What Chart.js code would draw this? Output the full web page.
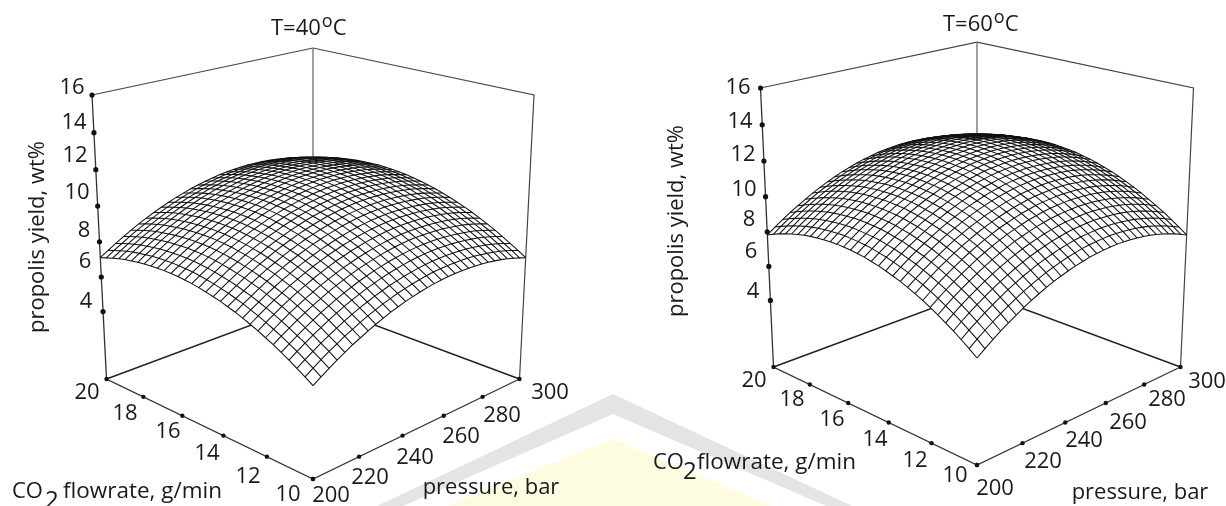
<!DOCTYPE html>
<html>
<head>
<meta charset="utf-8">
<style>
html,body{margin:0;padding:0;background:#fff;overflow:hidden}
#wrap{position:relative;width:1226px;height:506px}
#wrap canvas{position:absolute;left:0;top:0}
.mark{position:absolute;left:0;top:0;width:1226px;height:506px}
#mark1{background:#e4e4e4;clip-path:polygon(613px 394px,852px 506px,826px 506px,613px 414px,403px 506px,377px 506px)}
#mark2{background:#fdfbe0;clip-path:polygon(613px 439px,773px 506px,447px 506px)}
</style>
</head>
<body>
<div id="wrap">
<div class="mark" id="mark1"></div>
<div class="mark" id="mark2"></div>
<canvas id="chart" width="1226" height="506"></canvas>
</div>
<script src="https://cdn.jsdelivr.net/npm/chart.js@4"></script>
<script>
var yieldTicks = [4, 6, 8, 10, 12, 14, 16];
var flowTicks = [20, 18, 16, 14, 12, 10];
var pressureTicks = [200, 220, 240, 260, 280, 300];

// mesh nodes of the surface
var pressureNodes = [200, 203.33, 206.67, 210, 213.33, 216.67, 220, 223.33, 226.67, 230, 233.33, 236.67, 240, 243.33, 246.67, 250, 253.33, 256.67, 260, 263.33, 266.67, 270, 273.33, 276.67, 280, 283.33, 286.67, 290, 293.33, 296.67, 300];
var flowNodes = [10, 10.33, 10.67, 11, 11.33, 11.67, 12, 12.33, 12.67, 13, 13.33, 13.67, 14, 14.33, 14.67, 15, 15.33, 15.67, 16, 16.33, 16.67, 17, 17.33, 17.67, 18, 18.33, 18.67, 19, 19.33, 19.67, 20];

var yield40 = [
[4.90,5.18,5.44,5.70,5.93,6.16,6.36,6.56,6.74,6.90,7.06,7.19,7.32,7.42,7.52,7.60,7.67,7.72,7.76,7.78,7.79,7.78,7.76,7.73,7.68,7.62,7.55,7.46,7.35,7.23,7.10],
[5.18,5.46,5.72,5.98,6.21,6.44,6.64,6.84,7.02,7.18,7.34,7.47,7.60,7.70,7.80,7.88,7.95,8.00,8.04,8.06,8.07,8.06,8.04,8.01,7.96,7.90,7.83,7.74,7.63,7.51,7.38],
[5.44,5.72,5.98,6.24,6.47,6.70,6.90,7.10,7.28,7.44,7.60,7.73,7.86,7.96,8.06,8.14,8.21,8.26,8.30,8.32,8.33,8.32,8.30,8.27,8.22,8.16,8.09,8.00,7.89,7.77,7.64],
[5.70,5.98,6.24,6.50,6.73,6.96,7.16,7.36,7.54,7.70,7.86,7.99,8.12,8.22,8.32,8.40,8.47,8.52,8.56,8.58,8.59,8.58,8.56,8.53,8.48,8.42,8.35,8.26,8.15,8.03,7.90],
[5.93,6.21,6.47,6.73,6.96,7.19,7.39,7.59,7.77,7.93,8.09,8.22,8.35,8.45,8.55,8.63,8.70,8.75,8.79,8.81,8.82,8.81,8.79,8.76,8.71,8.65,8.58,8.49,8.38,8.26,8.13],
[6.16,6.44,6.70,6.96,7.19,7.42,7.62,7.82,8.00,8.16,8.32,8.45,8.58,8.68,8.78,8.86,8.93,8.98,9.02,9.04,9.05,9.04,9.02,8.99,8.94,8.88,8.81,8.72,8.61,8.49,8.36],
[6.36,6.64,6.90,7.16,7.39,7.62,7.82,8.02,8.20,8.36,8.52,8.65,8.78,8.88,8.98,9.06,9.13,9.18,9.22,9.24,9.25,9.24,9.22,9.19,9.14,9.08,9.01,8.92,8.81,8.69,8.56],
[6.56,6.84,7.10,7.36,7.59,7.82,8.02,8.22,8.40,8.56,8.72,8.85,8.98,9.08,9.18,9.26,9.33,9.38,9.42,9.44,9.45,9.44,9.42,9.39,9.34,9.28,9.21,9.12,9.01,8.89,8.76],
[6.74,7.02,7.28,7.54,7.77,8.00,8.20,8.40,8.58,8.74,8.90,9.03,9.16,9.26,9.36,9.44,9.51,9.56,9.60,9.62,9.63,9.62,9.60,9.57,9.52,9.46,9.39,9.30,9.19,9.07,8.94],
[6.90,7.18,7.44,7.70,7.93,8.16,8.36,8.56,8.74,8.90,9.06,9.19,9.32,9.42,9.52,9.60,9.67,9.72,9.76,9.78,9.79,9.78,9.76,9.73,9.68,9.62,9.55,9.46,9.35,9.23,9.10],
[7.06,7.34,7.60,7.86,8.09,8.32,8.52,8.72,8.90,9.06,9.22,9.35,9.48,9.58,9.68,9.76,9.83,9.88,9.92,9.94,9.95,9.94,9.92,9.89,9.84,9.78,9.71,9.62,9.51,9.39,9.26],
[7.19,7.47,7.73,7.99,8.22,8.45,8.65,8.85,9.03,9.19,9.35,9.48,9.61,9.71,9.81,9.89,9.96,10.01,10.05,10.07,10.08,10.07,10.05,10.02,9.97,9.91,9.84,9.75,9.64,9.52,9.39],
[7.32,7.60,7.86,8.12,8.35,8.58,8.78,8.98,9.16,9.32,9.48,9.61,9.74,9.84,9.94,10.02,10.09,10.14,10.18,10.20,10.21,10.20,10.18,10.15,10.10,10.04,9.97,9.88,9.77,9.65,9.52],
[7.42,7.70,7.96,8.22,8.45,8.68,8.88,9.08,9.26,9.42,9.58,9.71,9.84,9.94,10.04,10.12,10.19,10.24,10.28,10.30,10.31,10.30,10.28,10.25,10.20,10.14,10.07,9.98,9.87,9.75,9.62],
[7.52,7.80,8.06,8.32,8.55,8.78,8.98,9.18,9.36,9.52,9.68,9.81,9.94,10.04,10.14,10.22,10.29,10.34,10.38,10.40,10.41,10.40,10.38,10.35,10.30,10.24,10.17,10.08,9.97,9.85,9.72],
[7.60,7.88,8.14,8.40,8.63,8.86,9.06,9.26,9.44,9.60,9.76,9.89,10.02,10.12,10.22,10.30,10.37,10.42,10.46,10.48,10.49,10.48,10.46,10.43,10.38,10.32,10.25,10.16,10.05,9.93,9.80],
[7.67,7.95,8.21,8.47,8.70,8.93,9.13,9.33,9.51,9.67,9.83,9.96,10.09,10.19,10.29,10.37,10.44,10.49,10.53,10.55,10.56,10.55,10.53,10.50,10.45,10.39,10.32,10.23,10.12,10.00,9.87],
[7.72,8.00,8.26,8.52,8.75,8.98,9.18,9.38,9.56,9.72,9.88,10.01,10.14,10.24,10.34,10.42,10.49,10.54,10.58,10.60,10.61,10.60,10.58,10.55,10.50,10.44,10.37,10.28,10.17,10.05,9.92],
[7.76,8.04,8.30,8.56,8.79,9.02,9.22,9.42,9.60,9.76,9.92,10.05,10.18,10.28,10.38,10.46,10.53,10.58,10.62,10.64,10.65,10.64,10.62,10.59,10.54,10.48,10.41,10.32,10.21,10.09,9.96],
[7.78,8.06,8.32,8.58,8.81,9.04,9.24,9.44,9.62,9.78,9.94,10.07,10.20,10.30,10.40,10.48,10.55,10.60,10.64,10.66,10.67,10.66,10.64,10.61,10.56,10.50,10.43,10.34,10.23,10.11,9.98],
[7.79,8.07,8.33,8.59,8.82,9.05,9.25,9.45,9.63,9.79,9.95,10.08,10.21,10.31,10.41,10.49,10.56,10.61,10.65,10.67,10.68,10.67,10.65,10.62,10.57,10.51,10.44,10.35,10.24,10.12,9.99],
[7.78,8.06,8.32,8.58,8.81,9.04,9.24,9.44,9.62,9.78,9.94,10.07,10.20,10.30,10.40,10.48,10.55,10.60,10.64,10.66,10.67,10.66,10.64,10.61,10.56,10.50,10.43,10.34,10.23,10.11,9.98],
[7.76,8.04,8.30,8.56,8.79,9.02,9.22,9.42,9.60,9.76,9.92,10.05,10.18,10.28,10.38,10.46,10.53,10.58,10.62,10.64,10.65,10.64,10.62,10.59,10.54,10.48,10.41,10.32,10.21,10.09,9.96],
[7.73,8.01,8.27,8.53,8.76,8.99,9.19,9.39,9.57,9.73,9.89,10.02,10.15,10.25,10.35,10.43,10.50,10.55,10.59,10.61,10.62,10.61,10.59,10.56,10.51,10.45,10.38,10.29,10.18,10.06,9.93],
[7.68,7.96,8.22,8.48,8.71,8.94,9.14,9.34,9.52,9.68,9.84,9.97,10.10,10.20,10.30,10.38,10.45,10.50,10.54,10.56,10.57,10.56,10.54,10.51,10.46,10.40,10.33,10.24,10.13,10.01,9.88],
[7.62,7.90,8.16,8.42,8.65,8.88,9.08,9.28,9.46,9.62,9.78,9.91,10.04,10.14,10.24,10.32,10.39,10.44,10.48,10.50,10.51,10.50,10.48,10.45,10.40,10.34,10.27,10.18,10.07,9.95,9.82],
[7.55,7.83,8.09,8.35,8.58,8.81,9.01,9.21,9.39,9.55,9.71,9.84,9.97,10.07,10.17,10.25,10.32,10.37,10.41,10.43,10.44,10.43,10.41,10.38,10.33,10.27,10.20,10.11,10.00,9.88,9.75],
[7.46,7.74,8.00,8.26,8.49,8.72,8.92,9.12,9.30,9.46,9.62,9.75,9.88,9.98,10.08,10.16,10.23,10.28,10.32,10.34,10.35,10.34,10.32,10.29,10.24,10.18,10.11,10.02,9.91,9.79,9.66],
[7.35,7.63,7.89,8.15,8.38,8.61,8.81,9.01,9.19,9.35,9.51,9.64,9.77,9.87,9.97,10.05,10.12,10.17,10.21,10.23,10.24,10.23,10.21,10.18,10.13,10.07,10.00,9.91,9.80,9.68,9.55],
[7.23,7.51,7.77,8.03,8.26,8.49,8.69,8.89,9.07,9.23,9.39,9.52,9.65,9.75,9.85,9.93,10.00,10.05,10.09,10.11,10.12,10.11,10.09,10.06,10.01,9.95,9.88,9.79,9.68,9.56,9.43],
[7.10,7.38,7.64,7.90,8.13,8.36,8.56,8.76,8.94,9.10,9.26,9.39,9.52,9.62,9.72,9.80,9.87,9.92,9.96,9.98,9.99,9.98,9.96,9.93,9.88,9.82,9.75,9.66,9.55,9.43,9.30]
];

// same layout, T=60 surface
var yield60 = [
[5.67,5.99,6.29,6.57,6.83,7.08,7.32,7.53,7.73,7.91,8.08,8.22,8.35,8.47,8.56,8.65,8.71,8.75,8.78,8.80,8.79,8.77,8.73,8.68,8.61,8.52,8.41,8.29,8.15,7.99,7.82],
[5.99,6.31,6.61,6.89,7.15,7.40,7.64,7.85,8.05,8.23,8.40,8.54,8.67,8.79,8.88,8.97,9.03,9.07,9.10,9.12,9.11,9.09,9.05,9.00,8.93,8.84,8.73,8.61,8.47,8.31,8.14],
[6.29,6.61,6.91,7.19,7.45,7.70,7.94,8.15,8.35,8.53,8.70,8.84,8.97,9.09,9.18,9.27,9.33,9.37,9.40,9.42,9.41,9.39,9.35,9.30,9.23,9.14,9.03,8.91,8.77,8.61,8.44],
[6.57,6.89,7.19,7.47,7.73,7.98,8.22,8.43,8.63,8.81,8.98,9.12,9.25,9.37,9.46,9.55,9.61,9.65,9.68,9.70,9.69,9.67,9.63,9.58,9.51,9.42,9.31,9.19,9.05,8.89,8.72],
[6.83,7.15,7.45,7.73,7.99,8.24,8.48,8.69,8.89,9.07,9.24,9.38,9.51,9.63,9.72,9.81,9.87,9.91,9.94,9.96,9.95,9.93,9.89,9.84,9.77,9.68,9.57,9.45,9.31,9.15,8.98],
[7.08,7.40,7.70,7.98,8.24,8.49,8.73,8.94,9.14,9.32,9.49,9.63,9.76,9.88,9.97,10.06,10.12,10.16,10.19,10.21,10.20,10.18,10.14,10.09,10.02,9.93,9.82,9.70,9.56,9.40,9.23],
[7.32,7.64,7.94,8.22,8.48,8.73,8.97,9.18,9.38,9.56,9.73,9.87,10.00,10.12,10.21,10.30,10.36,10.40,10.43,10.45,10.44,10.42,10.38,10.33,10.26,10.17,10.06,9.94,9.80,9.64,9.47],
[7.53,7.85,8.15,8.43,8.69,8.94,9.18,9.39,9.59,9.77,9.94,10.08,10.21,10.33,10.42,10.51,10.57,10.61,10.64,10.66,10.65,10.63,10.59,10.54,10.47,10.38,10.27,10.15,10.01,9.85,9.68],
[7.73,8.05,8.35,8.63,8.89,9.14,9.38,9.59,9.79,9.97,10.14,10.28,10.41,10.53,10.62,10.71,10.77,10.81,10.84,10.86,10.85,10.83,10.79,10.74,10.67,10.58,10.47,10.35,10.21,10.05,9.88],
[7.91,8.23,8.53,8.81,9.07,9.32,9.56,9.77,9.97,10.15,10.32,10.46,10.59,10.71,10.80,10.89,10.95,10.99,11.02,11.04,11.03,11.01,10.97,10.92,10.85,10.76,10.65,10.53,10.39,10.23,10.06],
[8.08,8.40,8.70,8.98,9.24,9.49,9.73,9.94,10.14,10.32,10.49,10.63,10.76,10.88,10.97,11.06,11.12,11.16,11.19,11.21,11.20,11.18,11.14,11.09,11.02,10.93,10.82,10.70,10.56,10.40,10.23],
[8.22,8.54,8.84,9.12,9.38,9.63,9.87,10.08,10.28,10.46,10.63,10.77,10.90,11.02,11.11,11.20,11.26,11.30,11.33,11.35,11.34,11.32,11.28,11.23,11.16,11.07,10.96,10.84,10.70,10.54,10.37],
[8.35,8.67,8.97,9.25,9.51,9.76,10.00,10.21,10.41,10.59,10.76,10.90,11.03,11.15,11.24,11.33,11.39,11.43,11.46,11.48,11.47,11.45,11.41,11.36,11.29,11.20,11.09,10.97,10.83,10.67,10.50],
[8.47,8.79,9.09,9.37,9.63,9.88,10.12,10.33,10.53,10.71,10.88,11.02,11.15,11.27,11.36,11.45,11.51,11.55,11.58,11.60,11.59,11.57,11.53,11.48,11.41,11.32,11.21,11.09,10.95,10.79,10.62],
[8.56,8.88,9.18,9.46,9.72,9.97,10.21,10.42,10.62,10.80,10.97,11.11,11.24,11.36,11.45,11.54,11.60,11.64,11.67,11.69,11.68,11.66,11.62,11.57,11.50,11.41,11.30,11.18,11.04,10.88,10.71],
[8.65,8.97,9.27,9.55,9.81,10.06,10.30,10.51,10.71,10.89,11.06,11.20,11.33,11.45,11.54,11.63,11.69,11.73,11.76,11.78,11.77,11.75,11.71,11.66,11.59,11.50,11.39,11.27,11.13,10.97,10.80],
[8.71,9.03,9.33,9.61,9.87,10.12,10.36,10.57,10.77,10.95,11.12,11.26,11.39,11.51,11.60,11.69,11.75,11.79,11.82,11.84,11.83,11.81,11.77,11.72,11.65,11.56,11.45,11.33,11.19,11.03,10.86],
[8.75,9.07,9.37,9.65,9.91,10.16,10.40,10.61,10.81,10.99,11.16,11.30,11.43,11.55,11.64,11.73,11.79,11.83,11.86,11.88,11.87,11.85,11.81,11.76,11.69,11.60,11.49,11.37,11.23,11.07,10.90],
[8.78,9.10,9.40,9.68,9.94,10.19,10.43,10.64,10.84,11.02,11.19,11.33,11.46,11.58,11.67,11.76,11.82,11.86,11.89,11.91,11.90,11.88,11.84,11.79,11.72,11.63,11.52,11.40,11.26,11.10,10.93],
[8.80,9.12,9.42,9.70,9.96,10.21,10.45,10.66,10.86,11.04,11.21,11.35,11.48,11.60,11.69,11.78,11.84,11.88,11.91,11.93,11.92,11.90,11.86,11.81,11.74,11.65,11.54,11.42,11.28,11.12,10.95],
[8.79,9.11,9.41,9.69,9.95,10.20,10.44,10.65,10.85,11.03,11.20,11.34,11.47,11.59,11.68,11.77,11.83,11.87,11.90,11.92,11.91,11.89,11.85,11.80,11.73,11.64,11.53,11.41,11.27,11.11,10.94],
[8.77,9.09,9.39,9.67,9.93,10.18,10.42,10.63,10.83,11.01,11.18,11.32,11.45,11.57,11.66,11.75,11.81,11.85,11.88,11.90,11.89,11.87,11.83,11.78,11.71,11.62,11.51,11.39,11.25,11.09,10.92],
[8.73,9.05,9.35,9.63,9.89,10.14,10.38,10.59,10.79,10.97,11.14,11.28,11.41,11.53,11.62,11.71,11.77,11.81,11.84,11.86,11.85,11.83,11.79,11.74,11.67,11.58,11.47,11.35,11.21,11.05,10.88],
[8.68,9.00,9.30,9.58,9.84,10.09,10.33,10.54,10.74,10.92,11.09,11.23,11.36,11.48,11.57,11.66,11.72,11.76,11.79,11.81,11.80,11.78,11.74,11.69,11.62,11.53,11.42,11.30,11.16,11.00,10.83],
[8.61,8.93,9.23,9.51,9.77,10.02,10.26,10.47,10.67,10.85,11.02,11.16,11.29,11.41,11.50,11.59,11.65,11.69,11.72,11.74,11.73,11.71,11.67,11.62,11.55,11.46,11.35,11.23,11.09,10.93,10.76],
[8.52,8.84,9.14,9.42,9.68,9.93,10.17,10.38,10.58,10.76,10.93,11.07,11.20,11.32,11.41,11.50,11.56,11.60,11.63,11.65,11.64,11.62,11.58,11.53,11.46,11.37,11.26,11.14,11.00,10.84,10.67],
[8.41,8.73,9.03,9.31,9.57,9.82,10.06,10.27,10.47,10.65,10.82,10.96,11.09,11.21,11.30,11.39,11.45,11.49,11.52,11.54,11.53,11.51,11.47,11.42,11.35,11.26,11.15,11.03,10.89,10.73,10.56],
[8.29,8.61,8.91,9.19,9.45,9.70,9.94,10.15,10.35,10.53,10.70,10.84,10.97,11.09,11.18,11.27,11.33,11.37,11.40,11.42,11.41,11.39,11.35,11.30,11.23,11.14,11.03,10.91,10.77,10.61,10.44],
[8.15,8.47,8.77,9.05,9.31,9.56,9.80,10.01,10.21,10.39,10.56,10.70,10.83,10.95,11.04,11.13,11.19,11.23,11.26,11.28,11.27,11.25,11.21,11.16,11.09,11.00,10.89,10.77,10.63,10.47,10.30],
[7.99,8.31,8.61,8.89,9.15,9.40,9.64,9.85,10.05,10.23,10.40,10.54,10.67,10.79,10.88,10.97,11.03,11.07,11.10,11.12,11.11,11.09,11.05,11.00,10.93,10.84,10.73,10.61,10.47,10.31,10.14],
[7.82,8.14,8.44,8.72,8.98,9.23,9.47,9.68,9.88,10.06,10.23,10.37,10.50,10.62,10.71,10.80,10.86,10.90,10.93,10.95,10.94,10.92,10.88,10.83,10.76,10.67,10.56,10.44,10.30,10.14,9.97]
];

// perspective of each box, in page pixels
var view40 = {cx: 313, cy: 379, half: 206.5, c: 0.13, e: -0.0656, d: -37.7, g: -290.2};
var view60 = {cx: 977, cy: 367, half: 203.5, c: 0.13, e: -0.06, d: -37.6, g: -284.3};

// pressure 200..300, flow 10..20, yield 0..16 -> page pixels
function project(view, pressure, flow, y) {
    var a = (pressure - 200) / 100, b = (flow - 10) / 10, z = y / 16;
    var t = a + b - 1;
    var w = 1 + view.c * t + view.e * z;
    return {x: view.cx + view.half * (a - b) / w, y: (view.cy + view.d * t + view.g * z) / w};
}

function line(points, color, width, order) {
    return {data: points, showLine: true, borderColor: color, borderWidth: width, pointRadius: 0, order: order};
}

function dots(points, radius) {
    return {data: points, showLine: false, pointRadius: radius, backgroundColor: "#111", borderWidth: 0, order: 0};
}

function panelDatasets(view, grid) {
    var sets = [];
    function p(pr, fl, y) { return project(view, pr, fl, y); }
    // box frame
    sets.push(line([p(200, 20, 0), p(300, 20, 0), p(300, 10, 0)], "#222", 1.5, 5));
    sets.push(line([p(300, 20, 0), p(300, 20, 16)], "#888", 1.6, 5));
    sets.push(line([p(200, 20, 16), p(300, 20, 16), p(300, 10, 16), p(300, 10, 0)], "#444", 1.2, 5));
    sets.push(line([p(200, 20, 16), p(200, 20, 0), p(200, 10, 0), p(300, 10, 0)], "#333", 1.3, 5));
    // white skin so the back of the box stays hidden
    var n = pressureNodes.length - 1, k, m;
    var edge = [];
    for (k = 0; k <= n; k++) edge.push(p(pressureNodes[k], flowNodes[0], grid[k][0]));
    for (k = 0; k <= n; k++) edge.push(p(pressureNodes[n], flowNodes[k], grid[n][k]));
    for (k = n; k >= 0; k--) edge.push(p(pressureNodes[k], flowNodes[n], grid[k][n]));
    for (k = n; k >= 0; k--) edge.push(p(pressureNodes[0], flowNodes[k], grid[0][k]));
    sets.push({data: edge, showLine: true, borderWidth: 0, pointRadius: 0, backgroundColor: "#fff", fill: "shape", order: 4});
    // mesh
    for (k = 0; k <= n; k++) {
        var l1 = [], l2 = [];
        for (m = 0; m <= n; m++) {
            l1.push(p(pressureNodes[k], flowNodes[m], grid[k][m]));
            l2.push(p(pressureNodes[m], flowNodes[k], grid[m][k]));
        }
        sets.push(line(l1, "#111", 1.05, 3));
        sets.push(line(l2, "#111", 1.05, 3));
    }
    // tick dots
    sets.push(dots(yieldTicks.map(function (v) { return p(200, 20, v); }), 2.6));
    sets.push(dots(flowTicks.map(function (v) { return p(200, v, 0); }), 2.2));
    sets.push(dots(pressureTicks.map(function (v) { return p(v, 10, 0); }), 2.2));
    return sets;
}

var labels40 = {
    yield: [[86, 302], [85, 262], [84, 231], [77, 193], [75, 156], [74, 123], [72, 88]],
    flow: [[87, 393], [125, 414], [168, 432], [207, 454], [248, 477], [288, 495]],
    pressure: [[331, 496], [370, 478], [415, 458], [461, 437], [502, 416], [550, 393]],
    title: "T=40", titleX: 271, titleY: 29, yLabelX: 38, yLabelY: 237,
    pressureLabel: [491, 488], co: [12, 492], sub: [45, 495], flowLabel: [63, 492]
};
var labels60 = {
    yield: [[753, 292], [751, 252], [749, 220], [744, 190], [743, 155], [740, 122], [738, 88]],
    flow: [[754, 381], [792, 400], [832, 420], [875, 440], [915, 461], [955, 476]],
    pressure: [[995, 489], [1043, 462], [1084, 441], [1128, 423], [1167, 400], [1207, 382]],
    title: "T=60", titleX: 943, titleY: 25, yLabelX: 677, yLabelY: 221,
    pressureLabel: [1140, 493], co: [653, 463], sub: [683, 466], flowLabel: [697, 463]
};

function drawPanelText(ctx, t) {
    var font = '"Open Sans", sans-serif';
    ctx.fillStyle = "#1a1a1a";
    ctx.textBaseline = "middle";
    ctx.textAlign = "center";
    ctx.font = "22px " + font;
    yieldTicks.forEach(function (v, i) { ctx.fillText(String(v), t.yield[i][0], t.yield[i][1]); });
    flowTicks.forEach(function (v, i) { ctx.fillText(String(v), t.flow[i][0], t.flow[i][1]); });
    pressureTicks.forEach(function (v, i) { ctx.fillText(String(v), t.pressure[i][0], t.pressure[i][1]); });
    ctx.fillText("pressure, bar", t.pressureLabel[0], t.pressureLabel[1]);
    ctx.textAlign = "left";
    ctx.fillText("CO", t.co[0], t.co[1]);
    ctx.font = "24px " + font;
    ctx.fillText("2", t.sub[0], t.sub[1] + 6);
    ctx.font = "22.5px " + font;
    ctx.fillText("flowrate, g/min", t.flowLabel[0], t.flowLabel[1]);
    // title with raised degree sign
    ctx.font = "22px " + font;
    ctx.fillText(t.title, t.titleX, t.titleY);
    var w = ctx.measureText(t.title).width;
    ctx.font = "18px " + font;
    ctx.fillText("o", t.titleX + w + 1, t.titleY - 7);
    ctx.font = "22px " + font;
    ctx.fillText("C", t.titleX + w + 12, t.titleY);
    ctx.save();
    ctx.translate(t.yLabelX, t.yLabelY);
    ctx.rotate(-Math.PI / 2);
    ctx.textAlign = "center";
    ctx.fillText("propolis yield, wt%", 0, 0);
    ctx.restore();
}

var textPlugin = {
    id: "panelText",
    afterDatasetsDraw: function (chart) {
        drawPanelText(chart.ctx, labels40);
        drawPanelText(chart.ctx, labels60);
    }
};

new Chart(document.getElementById("chart").getContext("2d"), {
    type: "scatter",
    data: {datasets: panelDatasets(view40, yield40).concat(panelDatasets(view60, yield60))},
    options: {
        responsive: false,
        animation: false,
        layout: {padding: 0, autoPadding: false},
        elements: {line: {tension: 0}},
        plugins: {legend: {display: false}, tooltip: {enabled: false}, title: {display: false}},
        scales: {
            x: {type: "linear", min: 0, max: 1226, display: false},
            y: {type: "linear", min: 0, max: 506, reverse: true, display: false}
        }
    },
    plugins: [textPlugin]
});
</script>
</body>
</html>
